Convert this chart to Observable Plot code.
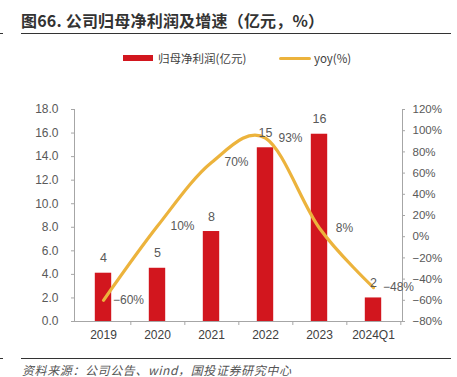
<!DOCTYPE html>
<html><head><meta charset="utf-8">
<script src="https://cdn.jsdelivr.net/npm/d3@7"></script>
<script src="https://cdn.jsdelivr.net/npm/@observablehq/plot@0.6"></script>
<style>
body{margin:0;background:#fff;}
#wrap{position:relative;width:457px;height:377px;overflow:hidden;font-family:"Noto Sans CJK SC","Noto Sans",sans-serif;}
#title{position:absolute;left:21px;top:8px;font-size:16px;font-weight:600;color:#333;white-space:nowrap;letter-spacing:0.2px;}
.rule{position:absolute;background:#333;}
#legend{position:absolute;top:48px;left:0;width:457px;height:20px;font-size:11.5px;color:#404040;}
.sw{position:absolute;}
.lt{position:absolute;top:0;line-height:20px;white-space:nowrap;}
#chart{position:absolute;left:0;top:90px;}
#source{position:absolute;left:22px;top:361px;font-size:12px;font-style:italic;color:#555;white-space:nowrap;letter-spacing:0.6px;}
</style></head>
<body>
<div id="wrap">
  <div id="title">图66. 公司归母净利润及增速（亿元，%）</div>
  <div class="rule" style="left:21px;top:33px;width:430px;height:1.3px;"></div>
  <div class="rule" style="left:0;top:33px;width:3px;height:1.3px;"></div>
  <div id="legend">
    <div class="sw" style="left:123px;top:7px;width:30px;height:6px;background:#d2161e;"></div>
    <div class="lt" style="left:158px;">归母净利润(亿元)</div>
    <div class="sw" style="left:279px;top:8.5px;width:32px;height:3.5px;background:#ecb33c;border-radius:2px;"></div>
    <div class="lt" style="left:314px;">yoy(%)</div>
  </div>
  <div id="chart"></div>
  <div class="rule" style="left:21px;top:357.5px;width:430px;height:1.5px;"></div>
  <div class="rule" style="left:0;top:357.5px;width:3px;height:1.5px;"></div>
  <div id="source">资料来源：公司公告、wind，国投证券研究中心</div>
</div>
<script>
const years = ["2019", "2020", "2021", "2022", "2023", "2024Q1"];
const profit = [4.1, 4.52, 7.64, 14.75, 15.9, 2.0];
const yoy = [-60, 10, 70, 93, 8, -48];
const leftTicks = [0, 2, 4, 6, 8, 10, 12, 14, 16, 18];
const rightTicks = [-80, -60, -40, -20, 0, 20, 40, 60, 80, 100, 120];

// map yoy (%) onto the left axis domain [0,18] <- [-80,120]
const toLeft = v => (v + 80) * 18 / 200;
const fromLeft = v => Math.round(v * 200 / 18 - 80);
const minus = s => String(s).replace("-", "\u2212");

const data = years.map((y, i) => ({year: y, profit: profit[i], yoy: yoy[i], yoyL: toLeft(yoy[i])}));

const numFont = "'Liberation Sans', Arial, sans-serif";
const bw = 328 / years.length;

const chart = Plot.plot({
  width: 457,
  height: 255,
  marginTop: 19,
  marginBottom: 24,
  marginLeft: 74,
  marginRight: 55,
  style: {fontFamily: numFont, fontSize: "11.5px", color: "#595959", background: "transparent"},
  x: {domain: years, padding: 0, label: null},
  y: {domain: [0, 18], label: null},
  marks: [
    Plot.barY(data, {x: "year", y: "profit", fill: "#d2161e", insetLeft: 18.8, insetRight: 18.8}),
    Plot.frame({anchor: "left", stroke: "#a6a6a6"}),
    Plot.frame({anchor: "right", stroke: "#a6a6a6"}),
    Plot.ruleY([0], {stroke: "#a6a6a6", strokeWidth: 1.2}),
    Plot.axisY({anchor: "left", ticks: leftTicks, tickFormat: d3.format(".1f"), tickSize: 3, tickPadding: 13, stroke: "#a6a6a6", fill: "#595959", fontSize: 12, label: null}),
    Plot.axisY({anchor: "right", ticks: rightTicks.map(toLeft), tickFormat: v => minus(fromLeft(v)) + "%", tickSize: 2, tickPadding: 8, stroke: "#a6a6a6", fill: "#595959", fontSize: 11.5, label: null}),
    Plot.axisX({tickSize: 4, text: null, dx: bw / 2, stroke: "#a6a6a6"}),
    Plot.axisX({tickSize: 0, tickPadding: 9, fill: "#404040", fontSize: 12, label: null}),
    Plot.line(data, {x: "year", y: "yoyL", stroke: "#ecb33c", strokeWidth: 3.2, curve: "cardinal", strokeLinecap: "round"}),
    Plot.text(data, {x: "year", y: "profit", text: d => String(Math.round(d.profit)), dy: -15, fill: "#595959", fontSize: 12.5}),
    Plot.text(data, {x: "year", y: "yoyL", text: d => minus(d.yoy) + "%", dx: 25, fill: "#595959", fontSize: 12})
  ]
});
document.getElementById("chart").appendChild(chart);
</script>
</body></html>
